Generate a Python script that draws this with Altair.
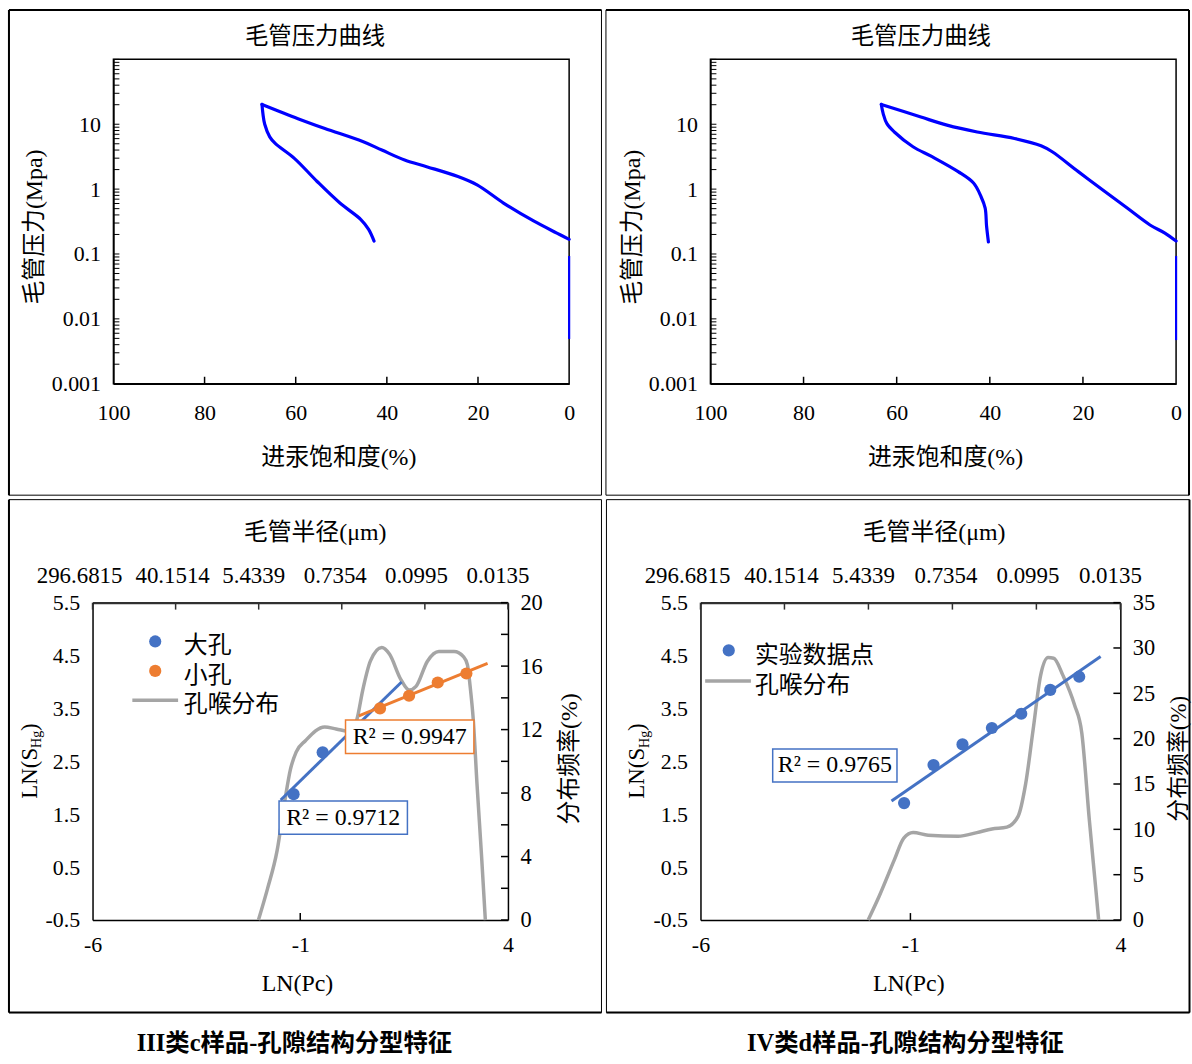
import altair as alt
import pandas as pd

SERIF = "Liberation Serif, Noto Sans CJK SC"
BLUE = "#4472C4"
ORANGE = "#ED7D31"
GRAY = "#A5A5A5"
CURVE = "#0000FF"

# ---------------- 毛管压力曲线 : III类c样品 ----------------
tl_in_sat = [0, 2.7, 7.7, 14.4, 20.2, 24.4, 31.1, 36.1, 41.1, 45.3, 53.6, 59.5, 67.4]
tl_in_p = [0.168, 0.21, 0.32, 0.61, 1.16, 1.56, 2.2, 2.8, 4.0, 5.4, 8.6, 12.2, 20.2]
tl_out_sat = [67.4, 67.2, 66.8, 65.7, 64.5, 60.3, 55.3, 50.3, 45.7, 44.0, 42.8]
tl_out_p = [20.2, 14.6, 10.0, 6.4, 5.06, 2.98, 1.31, 0.61, 0.34, 0.24, 0.158]
tl_base_sat = [0, 0]
tl_base_p = [0.0049, 0.093]

# ---------------- 毛管压力曲线 : IV类d样品 ----------------
tr_in_sat = [0, 2.4, 5.6, 10.5, 15.3, 21.0, 26.6, 29.0, 34.7, 42.7, 49.2, 54.8, 63.3]
tr_in_p = [0.158, 0.21, 0.28, 0.51, 0.92, 1.86, 3.77, 4.66, 6.04, 7.6, 9.7, 12.9, 20.2]
tr_out_sat = [63.3, 62.9, 62.1, 60.5, 56.5, 52.4, 46.8, 43.5, 41.9, 41.0, 40.7, 40.3]
tr_out_p = [20.2, 14.6, 10.2, 7.6, 4.5, 3.16, 1.86, 1.24, 0.77, 0.51, 0.27, 0.153]
tr_base_sat = [0, 0]
tr_base_p = [0.0047, 0.093]

# ---------------- 分形特征 : III类c样品 ----------------
bl_big_lnpc = [-1.16, -0.46]
bl_big_lns = [1.88, 2.67]
bl_small_lnpc = [0.92, 1.62, 2.31, 3.00]
bl_small_lns = [3.50, 3.74, 3.99, 4.16]
bl_big_fit_lnpc = [-1.47, 1.44]
bl_big_fit_lns = [1.77, 4.00]
bl_small_fit_lnpc = [0.41, 3.51]
bl_small_fit_lns = [3.36, 4.35]
bl_dist_lnpc = [-2.007, -1.787, -1.557, -1.375, -1.236, -1.099, -0.870, -0.412, -0.137,
                0.230, 0.367, 0.505, 0.688, 0.963, 1.147, 1.420, 1.624, 1.787, 2.062,
                2.338, 2.704, 2.934, 3.025, 3.090, 3.164, 3.255, 3.365, 3.456]
bl_dist_freq = [0, 1.98, 4.37, 7.45, 9.49, 10.58, 11.31, 12.17, 12.04,
                11.87, 12.67, 14.49, 16.31, 17.17, 16.76, 15.17, 14.49, 14.72, 16.31,
                16.92, 16.92, 16.58, 16.08, 14.72, 12.67, 8.58, 4.03, 0]

# ---------------- 分形特征 : IV类d样品 ----------------
br_lnpc = [-1.15, -0.45, 0.24, 0.94, 1.64, 2.33, 3.02]
br_lns = [1.71, 2.43, 2.82, 3.13, 3.40, 3.85, 4.10]
br_fit_lnpc = [-1.45, 3.53]
br_fit_lns = [1.75, 4.48]
br_dist_lnpc = [-2.007, -1.739, -1.381, -1.158, -0.936, -0.578, 0.137, 0.583, 0.941, 1.296,
                1.564, 1.744, 1.922, 2.100, 2.280, 2.412, 2.635, 2.905, 3.083, 3.261, 3.422, 3.483]
br_dist_freq = [0, 2.68, 6.66, 9.04, 9.64, 9.36, 9.24, 9.64, 10.04, 10.24,
                11.43, 15.01, 20.98, 26.95, 28.94, 28.87, 26.95, 23.76, 20.58, 11.04, 3.07, 0]

# axis tick values / labels
P_X_LABELS = [100, 80, 60, 40, 20, 0]
P_X_TICKS = [80, 60, 40, 20]
P_Y_LABELS = [0.001, 0.01, 0.1, 1, 10]
P_Y_TICKS = [k * 10.0 ** e for e in range(-3, 2) for k in range(1, 10)] + [100.0]
LN_X_LABELS = [-6, -1, 4]
LN_X_TICKS = [-1]
LN_Y_LABELS = [-0.5, 0.5, 1.5, 2.5, 3.5, 4.5, 5.5]
TOP_VALUES = [-6, -4, -2, 0, 2, 4]
TOP_LABELS = ["296.6815", "40.1514", "5.4339", "0.7354", "0.0995", "0.0135"]
TOP_LABEL_SHIFT = [-13.5, -3.5, -5.5, -7, -9, -10.5]
BL_FREQ_TICKS = list(range(0, 21, 2))
BR_FREQ_TICKS = list(range(0, 36, 5))

ONE = pd.DataFrame({"k": [0]})


def txt(text, x, y, size=24, angle=0, align="center", weight="normal"):
    return alt.Chart(ONE).mark_text(
        text=text, font=SERIF, fontSize=size, angle=angle, align=align,
        baseline="middle", fontWeight=weight, color="black"
    ).encode(x=alt.value(x), y=alt.value(y))


def frame(x1, x2, y1, y2, outer):
    layers = [alt.Chart(ONE).mark_rect(fill="transparent", stroke="black", strokeWidth=1).encode(
        x=alt.value(x1), x2=alt.value(x2), y=alt.value(y1), y2=alt.value(y2))]
    for side in outer:
        if side == "left":
            enc = dict(x=alt.value(x1), y=alt.value(y1), y2=alt.value(y2))
        elif side == "right":
            enc = dict(x=alt.value(x2), y=alt.value(y1), y2=alt.value(y2))
        elif side == "top":
            enc = dict(x=alt.value(x1), x2=alt.value(x2), y=alt.value(y1))
        else:
            enc = dict(x=alt.value(x1), x2=alt.value(x2), y=alt.value(y2))
        layers.append(alt.Chart(ONE).mark_rule(color="black", strokeWidth=2).encode(**enc))
    return layers


def pressure_panel(in_sat, in_p, out_sat, out_p, base_sat, base_p, W, H, fr, outer,
                   title_x, xtitle_x, ytitle_x, ytitle_y):
    xs = alt.Scale(domain=[0, 100], reverse=True, nice=False, zero=False)
    ys = alt.Scale(type="log", domain=[0.001, 100], nice=False)
    curve_df = pd.DataFrame({
        "sat": in_sat + out_sat,
        "p": in_p + out_p,
        "seg": ["进汞"] * len(in_sat) + ["退汞"] * len(out_sat),
        "idx": list(range(len(in_sat))) + list(range(len(out_sat))),
    })
    base_df = pd.DataFrame({"sat": base_sat, "p": base_p})
    yt_df = pd.DataFrame({"p": P_Y_TICKS})
    xt_df = pd.DataFrame({"sat": P_X_TICKS})
    xaxis = alt.Axis(values=P_X_LABELS, format="d", title=None, labelPadding=19,
                     labelFlush=False, labelOverlap=False)
    yaxis = alt.Axis(values=P_Y_LABELS, format="~g", title=None, labelPadding=13,
                     labelFlush=False, labelOverlap=False)
    curves = alt.Chart(curve_df).mark_line(
        color=CURVE, strokeWidth=3.2, interpolate="catmull-rom", strokeJoin="round", strokeCap="round"
    ).encode(
        x=alt.X("sat:Q", scale=xs, axis=xaxis),
        y=alt.Y("p:Q", scale=ys, axis=yaxis),
        detail="seg:N", order="idx:Q",
    )
    base = alt.Chart(base_df).mark_line(color=CURVE, strokeWidth=2.2).encode(
        x=alt.X("sat:Q", scale=xs), y=alt.Y("p:Q", scale=ys))
    yticks = alt.Chart(yt_df).mark_rule(color="black", strokeWidth=1).encode(
        x=alt.value(0), x2=alt.value(6), y=alt.Y("p:Q", scale=ys))
    xticks = alt.Chart(xt_df).mark_rule(color="black", strokeWidth=1.5).encode(
        x=alt.X("sat:Q", scale=xs), y=alt.value(H), y2=alt.value(H - 7))
    layers = frame(*fr, outer) + [
        curves, yticks, xticks, base,
        txt("毛管压力曲线", title_x, -22.5, size=23.5),
        txt("进汞饱和度(%)", xtitle_x, 400.5, size=24),
        txt("毛管压力(Mpa)", ytitle_x, ytitle_y, size=24, angle=270),
    ]
    return alt.layer(*layers).properties(width=W, height=H)


def ln_title(x0, ybot):
    return [
        txt("LN(S", x0, ybot, size=23, angle=270, align="left"),
        txt("Hg", x0 + 8, ybot - 51, size=14, angle=270, align="left"),
        txt(")", x0, ybot - 68, size=23, angle=270, align="left"),
    ]


def pore_panel(Wv, H, dx, fr, outer, freq_max, freq_ticks, dist_x, dist_r,
               pts, fits, color_dom, color_rng, boxes, legend, top_title_x,
               bot_title_x, rtitle_dx, rtitle_size, caption, caption_x):
    # dx: offset of the drawn plot frame from the view origin (layout alignment)
    W = Wv + dx
    rng = [dx, Wv + dx]
    xs_top = alt.Scale(domain=[-6, 4], range=rng, nice=False, zero=False)
    xs_bot = alt.Scale(domain=[-6, 4], range=rng, nice=False, zero=False)
    yl = alt.Scale(domain=[-0.5, 5.5], nice=False, zero=False)
    yr = alt.Scale(domain=[0, freq_max], nice=False, zero=False)
    top_expr = " : ".join(f"datum.value == {v} ? '{l}'" for v, l in zip(TOP_VALUES, TOP_LABELS)) + " : ''"
    top_offset = {
        "condition": [{"test": f"datum.value == {v}", "value": s}
                      for v, s in zip(TOP_VALUES[:-1], TOP_LABEL_SHIFT[:-1])],
        "value": TOP_LABEL_SHIFT[-1],
    }

    dist_df = pd.DataFrame({"x": dist_x, "r": dist_r})
    dist = alt.Chart(dist_df).mark_line(color=GRAY, strokeWidth=3.5, interpolate="monotone").encode(
        x=alt.X("x:Q", scale=xs_top, axis=alt.Axis(
            orient="top", values=TOP_VALUES, labelExpr=top_expr, title=None, labelPadding=15,
            labelFontSize=23, labelFlush=False, labelOverlap=False, domainColor="#303030",
            domainWidth=2.5, labelOffset=top_offset)),
        y=alt.Y("r:Q", scale=yr, axis=alt.Axis(
            orient="right", values=freq_ticks, labelExpr="'' + datum.value", title=None,
            labelPadding=12, labelFontSize=22.5, labelFlush=False, labelOverlap=False)),
    )
    rticks = alt.Chart(pd.DataFrame({"r": freq_ticks})).mark_rule(color="black", strokeWidth=1.5).encode(
        x=alt.value(W - 7), x2=alt.value(W), y=alt.Y("r:Q", scale=yr))
    tticks = alt.Chart(pd.DataFrame({"x": TOP_VALUES})).mark_rule(color="#303030", strokeWidth=1.5).encode(
        x=alt.X("x:Q", scale=xs_top), y=alt.value(0), y2=alt.value(7))
    right_layer = alt.layer(dist, rticks, tticks)

    cscale = alt.Scale(domain=color_dom, range=color_rng)
    fit_rows = {"x": [], "y": [], "grp": []}
    for g, fx, fy in fits:
        fit_rows["x"] += fx
        fit_rows["y"] += fy
        fit_rows["grp"] += [g] * len(fx)
    fit_df = pd.DataFrame(fit_rows)
    pt_rows = {"x": [], "y": [], "grp": []}
    for g, px, py in pts:
        pt_rows["x"] += px
        pt_rows["y"] += py
        pt_rows["grp"] += [g] * len(px)
    pt_df = pd.DataFrame(pt_rows)

    fit_layer = alt.Chart(fit_df).mark_line(strokeWidth=3).encode(
        x=alt.X("x:Q", scale=xs_bot, axis=alt.Axis(
            orient="bottom", values=LN_X_LABELS, labelExpr="'' + datum.value", title=None,
            labelPadding=15, labelFlush=False, labelOverlap=False)),
        y=alt.Y("y:Q", scale=yl, axis=alt.Axis(
            orient="left", values=LN_Y_LABELS, labelExpr="'' + datum.value", title=None,
            labelPadding=13, labelFlush=False, labelOverlap=False, offset=-dx)),
        color=alt.Color("grp:N", scale=cscale, legend=None),
    )
    box_layers = []
    for b in boxes:
        bdf = pd.DataFrame({"x1": [b["x1"]], "x2": [b["x2"]], "y1": [b["y1"]], "y2": [b["y2"]],
                            "cx": [(b["x1"] + b["x2"]) / 2], "cy": [(b["y1"] + b["y2"]) / 2]})
        box_layers.append(alt.Chart(bdf).mark_rect(fill="white", stroke=b["color"], strokeWidth=1.5).encode(
            x=alt.X("x1:Q", scale=xs_bot), x2="x2:Q",
            y=alt.Y("y1:Q", scale=yl), y2="y2:Q"))
        box_layers.append(alt.Chart(bdf).mark_text(
            text=b["text"], font=SERIF, fontSize=24, color="black", baseline="middle", align="center").encode(
            x=alt.X("cx:Q", scale=xs_bot), y=alt.Y("cy:Q", scale=yl)))
    pt_layer = alt.Chart(pt_df).mark_circle(size=150, opacity=1).encode(
        x=alt.X("x:Q", scale=xs_bot), y=alt.Y("y:Q", scale=yl),
        color=alt.Color("grp:N", scale=cscale, legend=None))
    bticks = alt.Chart(pd.DataFrame({"x": LN_X_TICKS})).mark_rule(color="black", strokeWidth=1.5).encode(
        x=alt.X("x:Q", scale=xs_bot), y=alt.value(H), y2=alt.value(H - 7))

    leg_layers = []
    for item in legend:
        if item["kind"] == "dot":
            leg_layers.append(alt.Chart(ONE).mark_circle(size=150, opacity=1, color=item["color"]).encode(
                x=alt.value(item["mx"] + dx), y=alt.value(item["my"])))
        else:
            leg_layers.append(alt.Chart(ONE).mark_rule(color=item["color"], strokeWidth=3.5).encode(
                x=alt.value(item["mx"] - 23 + dx), x2=alt.value(item["mx"] + 23 + dx), y=alt.value(item["my"])))
        leg_layers.append(txt(item["label"], item["tx"] + dx, item["ty"], size=24, align="left"))

    fx1, fx2, fy1, fy2 = fr
    left_layer = alt.layer(
        *(frame(fx1 + dx, fx2 + dx, fy1, fy2, outer) + [fit_layer] + box_layers + [pt_layer, bticks]
          + leg_layers
          + ln_title(-63.3 + dx, 197)
          + [txt("毛管半径(μm)", top_title_x + dx, -70, size=24),
             txt("LN(Pc)", bot_title_x + dx, H + 64.5, size=24),
             txt("分布频率(%)", Wv + rtitle_dx + dx, 157, size=rtitle_size, angle=270),
             txt(caption, caption_x + dx, 443.5, size=24.5, weight="bold")])
    )
    return alt.layer(right_layer, left_layer).resolve_scale(
        x="independent", y="independent").properties(
        width=W, height=H, view=alt.ViewBackground(stroke="transparent"))


tl = pressure_panel(tl_in_sat, tl_in_p, tl_out_sat, tl_out_p, tl_base_sat, tl_base_p,
                    458, 326, (-105, 490.5, -49.5, 438), ["left", "top"],
                    202.7, 226.6, -78.6, 168.5)
tr = pressure_panel(tr_in_sat, tr_in_p, tr_out_sat, tr_out_p, tr_base_sat, tr_base_p,
                    468, 326, (-105, 481, -49.5, 438), ["right", "top"],
                    211.4, 236.3, -77.4, 168.8)

bl = pore_panel(
    417.5, 319, -21, (-84, 511.5, -103.5, 412), ["left", "bottom"], 20, BL_FREQ_TICKS,
    bl_dist_lnpc, bl_dist_freq,
    pts=[("大孔", bl_big_lnpc, bl_big_lns), ("小孔", bl_small_lnpc, bl_small_lns)],
    fits=[("大孔", bl_big_fit_lnpc, bl_big_fit_lns), ("小孔", bl_small_fit_lnpc, bl_small_fit_lns)],
    color_dom=["大孔", "小孔"], color_rng=[BLUE, ORANGE],
    boxes=[
        {"x1": -1.51, "x2": 1.58, "y1": 1.12, "y2": 1.75, "color": BLUE, "text": "R² = 0.9712"},
        {"x1": 0.09, "x2": 3.18, "y1": 2.65, "y2": 3.28, "color": ORANGE, "text": "R² = 0.9947"},
    ],
    legend=[
        {"kind": "dot", "color": BLUE, "mx": 63, "my": 39, "label": "大孔", "tx": 91.7, "ty": 44},
        {"kind": "dot", "color": ORANGE, "mx": 63, "my": 68.6, "label": "小孔", "tx": 91.7, "ty": 74},
        {"kind": "line", "color": GRAY, "mx": 63, "my": 98, "label": "孔喉分布", "tx": 91.7, "ty": 103},
    ],
    top_title_x=223.7, bot_title_x=206, rtitle_dx=62.5, rtitle_size=24,
    caption="III类c样品-孔隙结构分型特征", caption_x=203,
)

br = pore_panel(
    422, 319, 0, (-94.5, 491.5, -103.5, 412), ["right", "bottom"], 35, BR_FREQ_TICKS,
    br_dist_lnpc, br_dist_freq,
    pts=[("实验数据点", br_lnpc, br_lns)],
    fits=[("实验数据点", br_fit_lnpc, br_fit_lns)],
    color_dom=["实验数据点"], color_rng=[BLUE],
    boxes=[
        {"x1": -4.28, "x2": -1.32, "y1": 2.11, "y2": 2.735, "color": BLUE, "text": "R² = 0.9765"},
    ],
    legend=[
        {"kind": "dot", "color": BLUE, "mx": 28.4, "my": 48, "label": "实验数据点", "tx": 54.7, "ty": 54},
        {"kind": "line", "color": GRAY, "mx": 27.7, "my": 78.8, "label": "孔喉分布", "tx": 54.7, "ty": 84},
    ],
    top_title_x=234.8, bot_title_x=209.4, rtitle_dx=58.5, rtitle_size=23,
    caption="IV类d样品-孔隙结构分型特征", caption_x=206,
)

chart = alt.concat(
    tl, tr, bl, br, columns=2, spacing=0, align="none",
).properties(
    padding={"left": 7, "top": 5, "right": 0, "bottom": 0},
    background="white",
).configure_view(
    stroke="black", strokeWidth=1.5
).configure_axis(
    labelFont=SERIF, labelFontSize=22, labelColor="black",
    domainColor="black", domainWidth=1.5, ticks=False, tickSize=0, grid=False,
)

chart.save("out.html", embed_options={"renderer": "svg", "actions": False})
